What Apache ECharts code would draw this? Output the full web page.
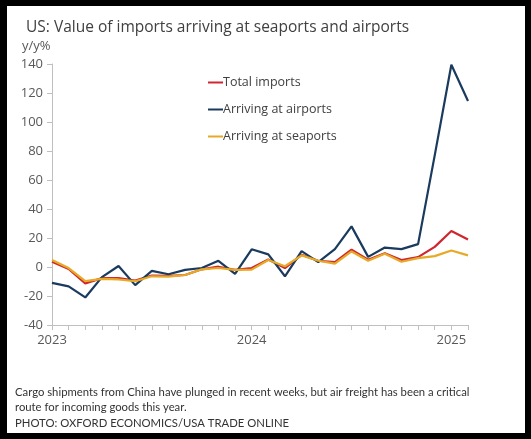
<!DOCTYPE html>
<html>
<head>
<meta charset="utf-8">
<script src="https://cdn.jsdelivr.net/npm/echarts@6/dist/echarts.min.js"></script>
<style>
  html, body { margin: 0; padding: 0; background: #000; }
  #card { position: absolute; left: 7px; top: 6px; width: 518px; height: 427px; background: #fff; }
</style>
</head>
<body>
<div id="card"></div>
<script>
var months = [
    '2023-01', '2023-02', '2023-03', '2023-04', '2023-05', '2023-06',
    '2023-07', '2023-08', '2023-09', '2023-10', '2023-11', '2023-12',
    '2024-01', '2024-02', '2024-03', '2024-04', '2024-05', '2024-06',
    '2024-07', '2024-08', '2024-09', '2024-10', '2024-11', '2024-12',
    '2025-01', '2025-02'
];
var totalImports = [3.6, -1.4, -11.4, -7.7, -7.7, -9.3, -5.9, -6.1, -5.5, -1.6, 0.2, -2,
    -0.7, 5.2, -0.7, 8.4, 4.3, 3.4, 12, 5, 9.5, 4.8, 6.8, 13.9, 24.8, 18.9];
var airports = [-10.9, -13.4, -21, -7, 0.7, -12.5, -2.7, -5, -2, -0.7, 4.3, -4.8,
    12.2, 8.7, -6.4, 10.9, 3.4, 12.3, 28, 7, 13.4, 12.3, 15.8, 77, 139.5, 114.5];
var seaports = [4.8, -0.7, -9.8, -8.2, -8.6, -9.8, -6.4, -6.6, -5.5, -1.6, -0.7, -2,
    -1.8, 4.8, 0.5, 8, 4.3, 2.3, 10.7, 4.3, 9.1, 3.6, 6.1, 7.5, 11.4, 8];

var chart = echarts.init(document.getElementById('card'));
chart.setOption({
    backgroundColor: '#fff',
    animation: false,
    title: {
        text: 'US: Value of imports arriving at seaports and airports',
        left: 14,
        top: 9,
        textStyle: {
            fontFamily: 'Open Sans',
            fontWeight: 'normal',
            fontSize: 15.5,
            color: '#404040'
        }
    },
    legend: {
        orient: 'vertical',
        left: 196,
        top: 65,
        itemGap: 14,
        itemWidth: 15,
        itemHeight: 2,
        icon: 'rect',
        textStyle: {
            fontFamily: 'Open Sans',
            fontSize: 12.5,
            color: '#404040',
            padding: [0, 0, 0, -5]
        },
        data: ['Total imports', 'Arriving at airports', 'Arriving at seaports']
    },
    grid: {
        left: 45,
        right: 57,
        top: 58,
        bottom: 108
    },
    xAxis: {
        type: 'category',
        data: months,
        boundaryGap: false,
        axisLine: { onZero: false, lineStyle: { color: '#bfbfbf' } },
        axisTick: { interval: 0, length: 5, lineStyle: { color: '#bfbfbf' } },
        axisLabel: {
            interval: function (index) { return index % 12 === 0; },
            formatter: function (v) { return v.slice(0, 4); },
            margin: 9,
            fontFamily: 'Open Sans',
            fontSize: 13,
            color: '#595959'
        }
    },
    yAxis: {
        type: 'value',
        min: -40,
        max: 140,
        interval: 20,
        splitLine: { show: false },
        axisLine: { show: true, lineStyle: { color: '#bfbfbf' } },
        axisTick: { show: true, length: 5, lineStyle: { color: '#bfbfbf' } },
        axisLabel: {
            margin: 9,
            fontFamily: 'Open Sans',
            fontSize: 13,
            color: '#595959'
        }
    },
    graphic: [
        {
            type: 'text',
            left: 15,
            top: 34,
            style: { text: 'y/y%', font: '13px "Open Sans"', fill: '#595959' }
        },
        {
            type: 'text',
            left: 8,
            top: 379,
            style: {
                text: 'Cargo shipments from China have plunged in recent weeks, but air freight has been a critical\nroute for incoming goods this year.',
                font: '11.3px Lato',
                lineHeight: 15,
                fill: '#333'
            }
        },
        {
            type: 'text',
            left: 8,
            top: 412,
            style: { text: 'PHOTO: OXFORD ECONOMICS/USA TRADE ONLINE', font: '11.3px Lato', fill: '#333' }
        }
    ],
    series: [
        {
            name: 'Total imports',
            type: 'line',
            symbol: 'none',
            color: '#d0262f',
            lineStyle: { width: 2.2 },
            data: totalImports
        },
        {
            name: 'Arriving at airports',
            type: 'line',
            symbol: 'none',
            color: '#1a3a5e',
            lineStyle: { width: 2.2 },
            data: airports
        },
        {
            name: 'Arriving at seaports',
            type: 'line',
            symbol: 'none',
            color: '#e6aa26',
            lineStyle: { width: 2.2 },
            data: seaports
        }
    ]
});
</script>
</body>
</html>
